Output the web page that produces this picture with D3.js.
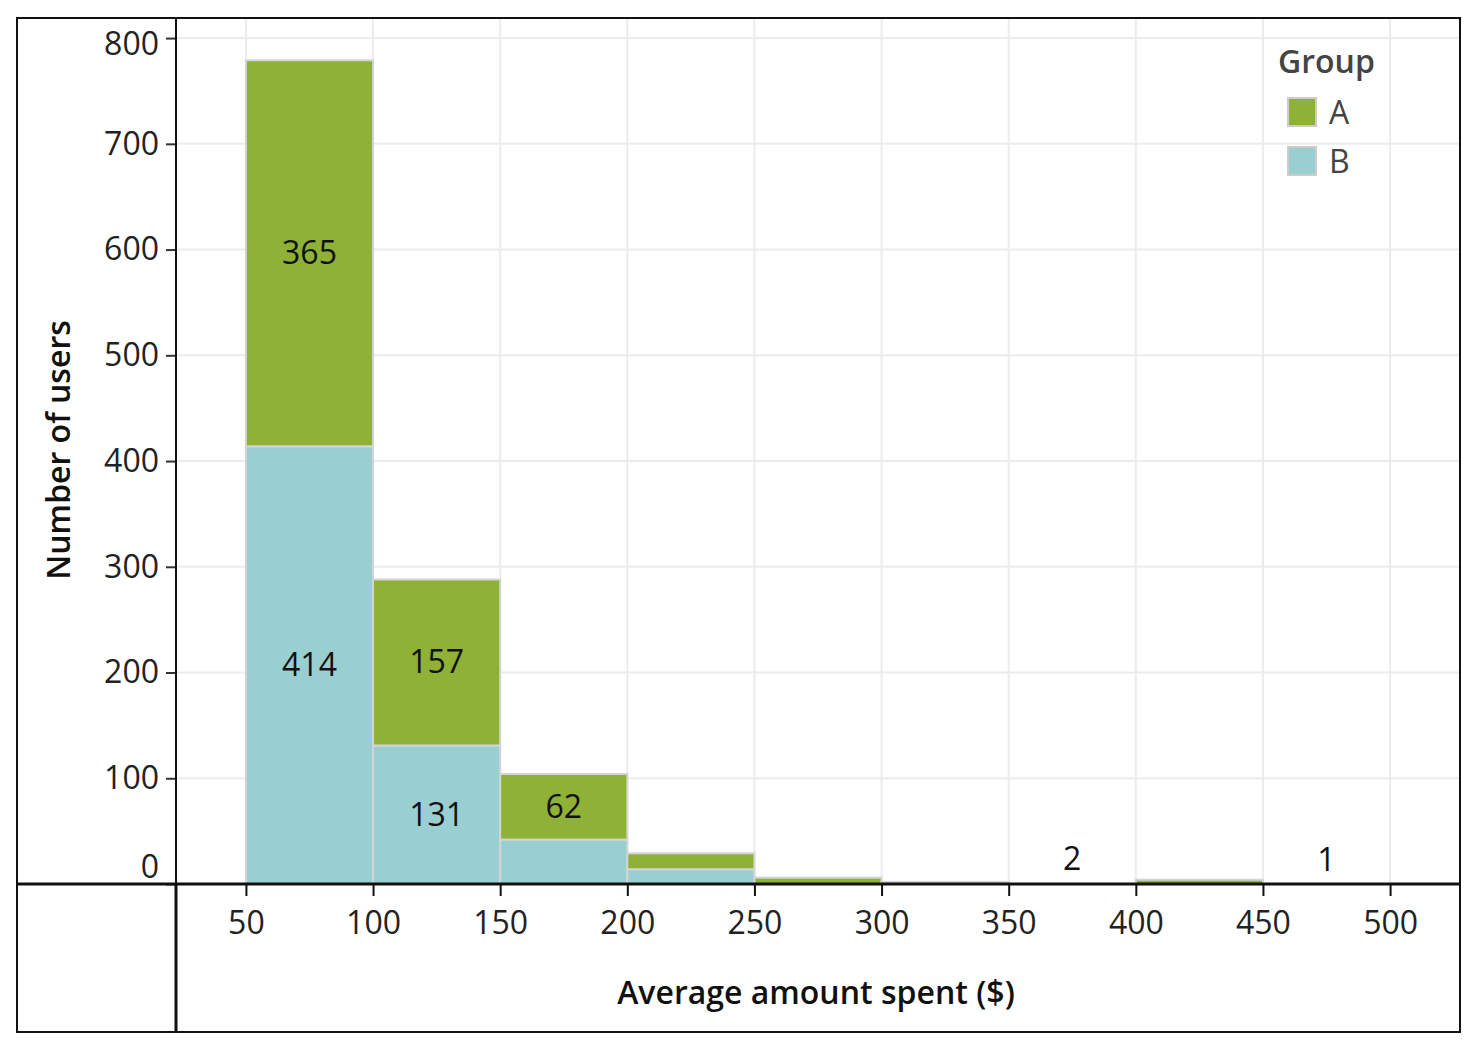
<!DOCTYPE html>
<html><head><meta charset="utf-8">
<script src="https://cdn.jsdelivr.net/npm/d3@7"></script>
<style>body{margin:0;background:#fff}text{font-family:"Open Sans",sans-serif}</style>
</head><body>
<svg id="chart" width="1474" height="1048"></svg>
<script>
let binStart = [50, 100, 150, 200, 250, 300, 350, 400, 450]
let groupB = [414, 131, 42, 14, 0, 0, 0, 0, 0]
let groupA = [365, 157, 62, 15, 6, 2, 2, 4, 1]
let labelsB = ["414", "131", "", "", "", "", "", "", ""]
let labelsA = ["365", "157", "62", "", "", "", "2", "", "1"]
let xTicks = [50, 100, 150, 200, 250, 300, 350, 400, 450, 500]
let yTicks = [0, 100, 200, 300, 400, 500, 600, 700, 800]
let colA = "#8fb135", colB = "#9acfd1"

let svg = d3.select("#chart")
let L = 176, R = 1460, T = 18, B = 884
let x = d3.scaleLinear().domain([22.5, 527.5]).range([L, R])
let y = d3.scaleLinear().domain([0, 819]).range([B, T])

// grid
svg.selectAll(".gx").data(xTicks).join("line")
  .attr("x1", d => x(d)).attr("x2", d => x(d)).attr("y1", T).attr("y2", B)
  .attr("stroke", "#ececec").attr("stroke-width", 2)
svg.selectAll(".gy").data(yTicks).join("line")
  .attr("x1", L).attr("x2", R).attr("y1", d => y(d)).attr("y2", d => y(d))
  .attr("stroke", "#ececec").attr("stroke-width", 2)

let bars = binStart.map((s, i) => ({s, a: groupA[i], b: groupB[i], la: labelsA[i], lb: labelsB[i]}))
let g = svg.append("g")
g.selectAll(".rb").data(bars).join("rect")
  .attr("x", d => x(d.s)).attr("width", d => x(d.s + 50) - x(d.s))
  .attr("y", d => y(d.b)).attr("height", d => y(0) - y(d.b))
  .attr("fill", colB).attr("stroke", "#d4d4d4").attr("stroke-width", 2)
g.selectAll(".ra").data(bars).join("rect")
  .attr("x", d => x(d.s)).attr("width", d => x(d.s + 50) - x(d.s))
  .attr("y", d => y(d.a + d.b)).attr("height", d => y(d.b) - y(d.a + d.b))
  .attr("fill", d => d.s === 300 || d.s === 350 || d.s === 450 ? "#e0e0e0" : colA)
  .attr("stroke", "#d4d4d4").attr("stroke-width", d => d.s === 350 || d.s === 450 ? 0 : 2)
  .attr("opacity", d => d.s === 350 || d.s === 450 ? 0 : 1)

g.selectAll(".tb").data(bars.filter(d => d.lb)).join("text")
  .attr("x", d => x(d.s + 25)).attr("y", d => y(d.b / 2) + 11)
  .attr("text-anchor", "middle").attr("font-size", 32).attr("fill", "#111").text(d => d.lb)
g.selectAll(".ta").data(bars.filter(d => d.la)).join("text")
  .attr("x", d => x(d.s + 25))
  .attr("y", d => d.a < 20 ? y(d.a + d.b) - 12 : y(d.b + d.a / 2) + 11)
  .attr("text-anchor", "middle").attr("font-size", 32).attr("fill", "#111").text(d => d.la)

// axes
let ya = svg.append("g").attr("transform", `translate(${L},0)`)
  .call(d3.axisLeft(y).tickValues(yTicks).tickSize(10).tickSizeOuter(0))
ya.select(".domain").remove()
ya.selectAll("line").attr("stroke", "#333").attr("stroke-width", 2)
ya.selectAll("text").attr("font-size", 32).attr("fill", "#222").attr("font-family", "Open Sans").attr("dx", -4)
  .attr("dy", d => d === 0 ? "-0.2em" : d === 800 ? "0.5em" : "0.32em")

let xa = svg.append("g").attr("transform", `translate(0,${B})`)
  .call(d3.axisBottom(x).tickValues(xTicks).tickSize(12).tickSizeOuter(0))
xa.select(".domain").remove()
xa.selectAll("line").attr("stroke", "#111").attr("stroke-width", 2)
xa.selectAll("text").attr("font-size", 32).attr("fill", "#222").attr("font-family", "Open Sans").attr("dy", "1.1em")

// frame
svg.append("rect").attr("x", 17).attr("y", 18).attr("width", R - 17).attr("height", 1032 - 18)
  .attr("fill", "none").attr("stroke", "#111").attr("stroke-width", 2)
svg.append("line").attr("x1", 17).attr("x2", R).attr("y1", B).attr("y2", B).attr("stroke", "#111").attr("stroke-width", 3)
svg.append("line").attr("x1", L).attr("x2", L).attr("y1", T).attr("y2", 1032).attr("stroke", "#111").attr("stroke-width", 2)
svg.append("line").attr("x1", L).attr("x2", L).attr("y1", B).attr("y2", 1032).attr("stroke", "#111").attr("stroke-width", 3)

svg.append("text").attr("x", 816).attr("y", 1004).attr("text-anchor", "middle")
  .attr("font-size", 32).attr("font-weight", 600).attr("fill", "#111").text("Average amount spent ($)")
svg.append("text").attr("transform", "translate(70,450) rotate(-90)").attr("text-anchor", "middle")
  .attr("font-size", 32).attr("font-weight", 600).attr("fill", "#111").text("Number of users")

// legend
let lg = svg.append("g").attr("transform", "translate(1278,0)")
lg.append("text").attr("x", 0).attr("y", 73).attr("font-size", 32).attr("font-weight", 600).attr("fill", "#444").text("Group")
let items = [["A", colA], ["B", colB]]
items.forEach((it, i) => {
  lg.append("rect").attr("x", 10).attr("y", 98 + i * 49).attr("width", 28).attr("height", 28)
    .attr("fill", it[1]).attr("stroke", "#ccc").attr("stroke-width", 2)
  lg.append("text").attr("x", 51).attr("y", 124 + i * 49).attr("font-size", 32).attr("fill", "#444").text(it[0])
})
</script>
</body></html>
